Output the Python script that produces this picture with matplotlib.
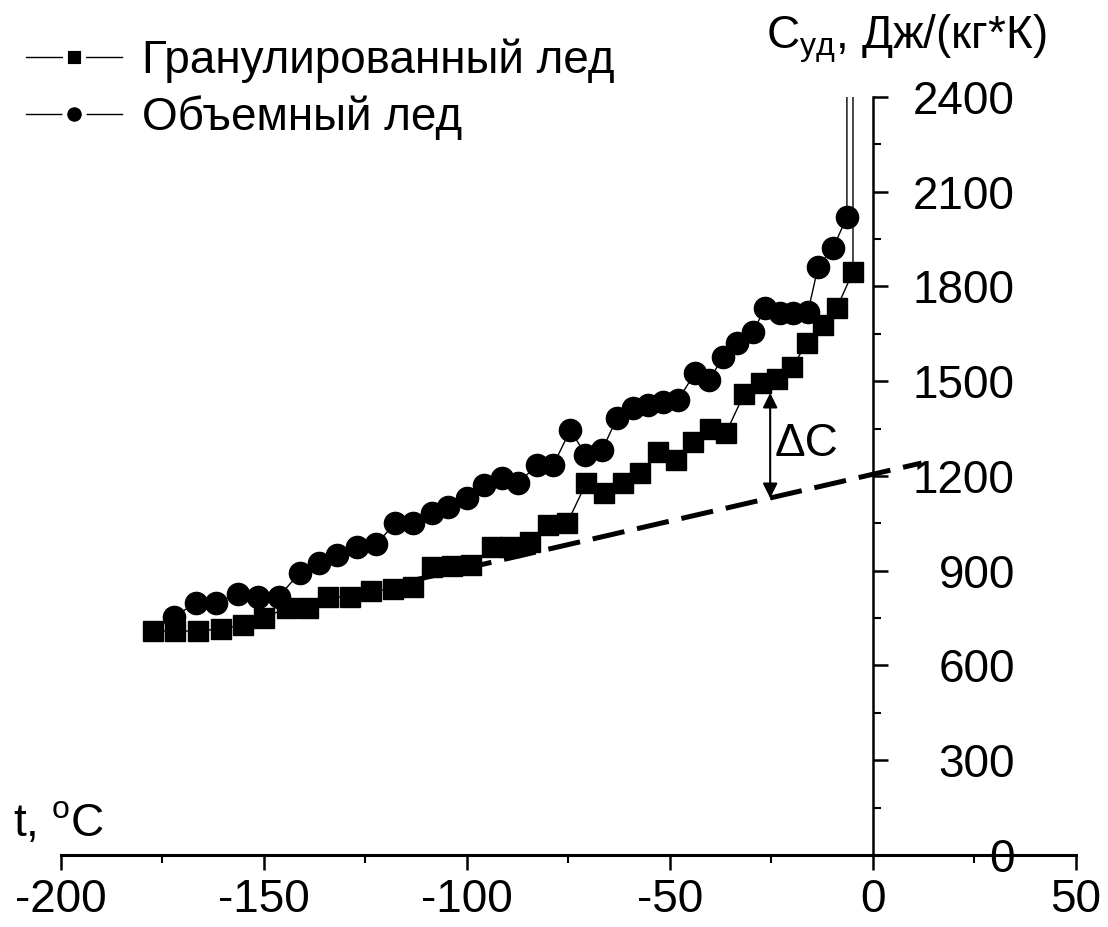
import matplotlib
matplotlib.use("Agg")
import matplotlib.pyplot as plt
from matplotlib.lines import Line2D
from matplotlib.ticker import MultipleLocator

plt.rcParams['font.family'] = ['Liberation Sans', 'DejaVu Sans']
plt.rcParams['mathtext.fontset'] = 'custom'
plt.rcParams['mathtext.rm'] = 'Liberation Sans'
plt.rcParams['mathtext.it'] = 'Liberation Sans'
plt.rcParams['axes.unicode_minus'] = False

# granulated ice (squares); last point is off-scale (melting peak)
t_gran = [-177.4, -172.0, -166.3, -160.6, -155.2, -150.0, -144.4, -139.2, -134.1, -128.9,
          -123.7, -118.3, -113.4, -108.5, -103.6, -99.1, -93.7, -89.3, -84.4, -80.0,
          -75.3, -70.6, -66.2, -61.5, -57.3, -52.9, -48.5, -44.3, -40.1, -36.2,
          -31.7, -27.6, -23.6, -19.9, -16.2, -12.3, -8.9, -4.9, -4.9]
c_gran = [709, 709, 709, 716, 728, 751, 782, 782, 817, 817,
          836, 842, 849, 912, 915, 918, 975, 975, 991, 1045,
          1051, 1178, 1146, 1178, 1210, 1276, 1251, 1308, 1349, 1336,
          1460, 1495, 1508, 1545, 1621, 1678, 1732, 1846, 5000]

# bulk ice (circles)
t_bulk = [-172.2, -166.8, -161.9, -156.5, -151.5, -146.4, -141.2, -136.5, -131.9, -127.0,
          -122.3, -117.6, -113.2, -108.5, -104.6, -99.9, -95.9, -91.3, -87.3, -82.7,
          -78.7, -74.5, -70.8, -66.7, -63.0, -59.0, -55.4, -51.7, -48.0, -43.8,
          -40.3, -36.9, -33.5, -29.5, -26.6, -22.9, -19.7, -16.0, -13.5, -9.8,
          -6.4, -6.4]
c_bulk = [754, 798, 798, 826, 817, 817, 893, 924, 950, 975,
          985, 1051, 1051, 1083, 1102, 1131, 1172, 1194, 1178, 1235,
          1235, 1346, 1267, 1282, 1384, 1416, 1425, 1435, 1441, 1526,
          1504, 1577, 1621, 1656, 1732, 1716, 1716, 1719, 1862, 1922,
          2020, 5000]

# dashed baseline
t_base = [-112.7, 12.0]
c_base = [871, 1241]

# delta C arrow
t_arrow = -25.3
c_arrow = [1130, 1463]

FS = 33

fig = plt.figure(figsize=(11.08, 9.27), dpi=100)
ax = fig.add_axes([0.055, 0.0777, 0.916, 0.8177])

ax.plot(t_gran, c_gran, color='black', lw=1.0, marker='s', ms=14.5,
        markevery=list(range(len(t_gran) - 1)))
ax.plot(t_bulk, c_bulk, color='black', lw=1.0, marker='o', ms=16,
        markevery=list(range(len(t_bulk) - 1)))
ax.plot(t_base, c_base, color='black', lw=3.6, dashes=(6.5, 2.6), clip_on=False, zorder=1)

ax.annotate('', xy=(t_arrow, c_arrow[0]), xytext=(t_arrow, c_arrow[1]),
            arrowprops=dict(arrowstyle='<|-|>', color='black', lw=1.5,
                            mutation_scale=22, shrinkA=0, shrinkB=0))
ax.text(t_arrow + 1.2, sum(c_arrow) / 2 + 5, '\u0394C', fontsize=FS, va='center', ha='left')

ax.set_xlim(-200, 50)
ax.set_ylim(0, 2400)

ax.spines['left'].set_visible(False)
ax.spines['top'].set_visible(False)
ax.spines['right'].set_position(('data', 0))
ax.spines['right'].set_linewidth(1.8)
ax.spines['bottom'].set_linewidth(2.2)

ax.yaxis.tick_right()
ax.yaxis.set_major_locator(MultipleLocator(300))
ax.yaxis.set_minor_locator(MultipleLocator(150))
ax.xaxis.set_major_locator(MultipleLocator(50))
ax.xaxis.set_minor_locator(MultipleLocator(25))

ax.tick_params(axis='y', which='major', direction='out', length=10.8, width=1.8,
               labelsize=FS, pad=91.4)
ax.tick_params(axis='y', which='minor', direction='out', length=5.8, width=1.5)
ax.tick_params(axis='x', which='major', direction='out', length=10.8, width=1.8,
               labelsize=FS, pad=6)
ax.tick_params(axis='x', which='minor', direction='out', length=5.8, width=1.5)
for lab in ax.get_yticklabels():
    lab.set_horizontalalignment('right')

fig.text(0.945, 0.948, 'C$_{\\mathrm{уд}}$, Дж/(кг*К)', fontsize=FS, ha='right', va='baseline')
fig.text(0.012, 0.098, 't, $^{\\mathrm{o}}$C', fontsize=FS, ha='left', va='baseline')

h1 = Line2D([], [], color='black', lw=1.0, marker='s', ms=13,
            markeredgecolor='white', markeredgewidth=3.5)
h2 = Line2D([], [], color='black', lw=1.0, marker='o', ms=14,
            markeredgecolor='white', markeredgewidth=3.5)
ax.legend([h1, h2], ['Гранулированный лед', 'Объемный лед'], loc='upper left',
          bbox_to_anchor=(-0.075, 1.131), frameon=False, fontsize=FS,
          handlelength=2.1, handletextpad=0.42, labelspacing=0.25)

fig.savefig('out.png', dpi=100)
